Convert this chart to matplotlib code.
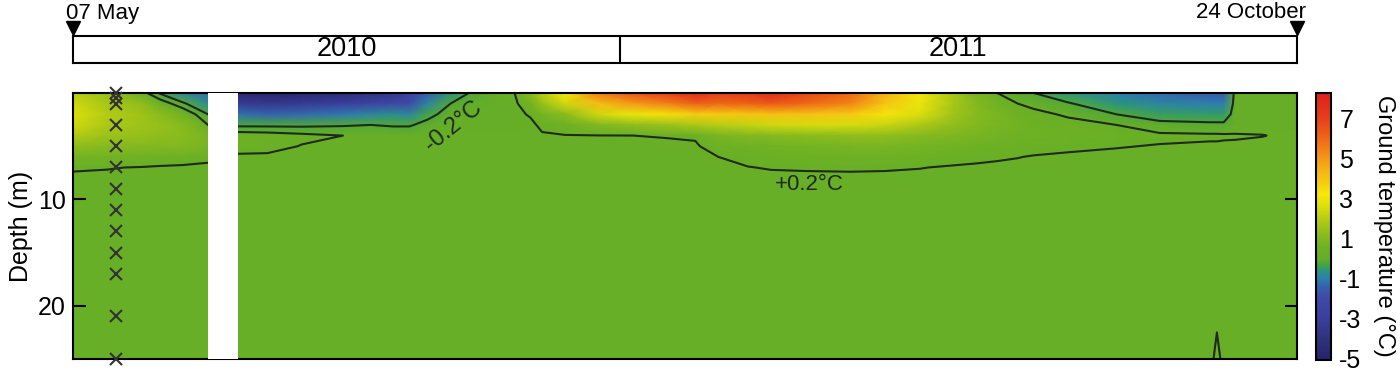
import numpy as np
import matplotlib
matplotlib.use("Agg")
import matplotlib.pyplot as plt
from matplotlib.colors import LinearSegmentedColormap, Normalize

plt.rcParams['font.family'] = ['Liberation Sans', 'DejaVu Sans']
plt.rcParams['axes.unicode_minus'] = False

# ---------------- data ----------------
# depth of each row of the temperature profiles (m)
depths = [0, 1, 2, 3, 4, 5, 6, 7, 8, 10, 15, 20, 25]
# days after 07 May 2010 of each measured profile
days = [0, 15, 30, 38, 48, 59, 72, 85, 100, 118, 130, 140, 147, 155, 165, 173,
        185, 193, 200, 205, 215, 230, 245, 260, 272, 282, 295, 305, 320, 340,
        355, 370, 385, 395, 404, 413, 420, 435, 456, 475, 497, 500, 503, 508,
        520, 535]
# ground temperature profiles (deg C), one list per day, top to bottom
temps = [
    [2.0, 2.4, 2.6, 2.4, 1.9, 1.3, 0.7, 0.25, 0.12, 0.1, 0.1, 0.1, 0.1],
    [1.4, 1.7, 1.9, 1.8, 1.5, 1.1, 0.62, 0.22, 0.12, 0.1, 0.1, 0.1, 0.1],
    [0.4, 1.3, 1.6, 1.6, 1.4, 1.05, 0.6, 0.18, 0.12, 0.1, 0.1, 0.1, 0.1],
    [-0.25, 0.5, 1.2, 1.4, 1.3, 1.0, 0.5, 0.15, 0.11, 0.1, 0.1, 0.1, 0.1],
    [-0.9, -0.1, 0.6, 1.1, 1.2, 1.0, 0.4, 0.14, 0.11, 0.1, 0.1, 0.1, 0.1],
    [-1.2, -0.8, -0.2, 0.2, 0.8, 0.8, 0.3, 0.12, 0.1, 0.1, 0.1, 0.1, 0.1],
    [-4.6, -3.3, -1.2, -0.3, 0.45, 0.4, 0.12, 0.1, 0.1, 0.1, 0.1, 0.1, 0.1],
    [-4.8, -3.5, -1.4, -0.3, 0.4, 0.35, 0.12, 0.1, 0.1, 0.1, 0.1, 0.1, 0.1],
    [-4.7, -3.3, -1.3, -0.3, 0.3, 0.18, 0.1, 0.1, 0.1, 0.1, 0.1, 0.1, 0.1],
    [-4.4, -2.9, -1.1, -0.25, 0.2, 0.12, 0.1, 0.1, 0.1, 0.1, 0.1, 0.1, 0.1],
    [-3.9, -2.5, -0.9, -0.2, 0.12, 0.1, 0.1, 0.1, 0.1, 0.1, 0.1, 0.1, 0.1],
    [-3.6, -2.1, -0.8, -0.25, 0.1, 0.1, 0.1, 0.1, 0.1, 0.1, 0.1, 0.1, 0.1],
    [-2.8, -2.0, -0.9, -0.25, 0.1, 0.1, 0.1, 0.1, 0.1, 0.1, 0.1, 0.1, 0.1],
    [-1.5, -0.9, -0.35, -0.05, 0.1, 0.1, 0.1, 0.1, 0.1, 0.1, 0.1, 0.1, 0.1],
    [-0.7, -0.2, 0.0, 0.05, 0.1, 0.1, 0.1, 0.1, 0.1, 0.1, 0.1, 0.1, 0.1],
    [-0.2, -0.05, 0.05, 0.08, 0.1, 0.1, 0.1, 0.1, 0.1, 0.1, 0.1, 0.1, 0.1],
    [0.05, 0.02, 0.05, 0.08, 0.1, 0.1, 0.1, 0.1, 0.1, 0.1, 0.1, 0.1, 0.1],
    [0.2, 0.1, 0.08, 0.08, 0.1, 0.1, 0.1, 0.1, 0.1, 0.1, 0.1, 0.1, 0.1],
    [1.2, 0.6, 0.25, 0.1, 0.1, 0.1, 0.1, 0.1, 0.1, 0.1, 0.1, 0.1, 0.1],
    [2.0, 1.4, 0.7, 0.3, 0.15, 0.12, 0.1, 0.1, 0.1, 0.1, 0.1, 0.1, 0.1],
    [3.2, 2.4, 1.2, 0.5, 0.18, 0.12, 0.1, 0.1, 0.1, 0.1, 0.1, 0.1, 0.1],
    [5.6, 4.2, 2.4, 1.0, 0.19, 0.12, 0.1, 0.1, 0.1, 0.1, 0.1, 0.1, 0.1],
    [6.5, 5.0, 3.0, 1.3, 0.2, 0.13, 0.1, 0.1, 0.1, 0.1, 0.1, 0.1, 0.1],
    [7.0, 5.5, 3.4, 1.5, 0.22, 0.14, 0.1, 0.1, 0.1, 0.1, 0.1, 0.1, 0.1],
    [7.8, 6.2, 3.8, 1.8, 0.25, 0.15, 0.12, 0.1, 0.1, 0.1, 0.1, 0.1, 0.1],
    [7.0, 6.0, 3.9, 2.0, 0.8, 0.4, 0.2, 0.13, 0.1, 0.1, 0.1, 0.1, 0.1],
    [7.2, 6.2, 4.0, 2.2, 1.0, 0.55, 0.3, 0.19, 0.12, 0.1, 0.1, 0.1, 0.1],
    [7.8, 6.4, 4.1, 2.4, 1.1, 0.6, 0.35, 0.22, 0.13, 0.1, 0.1, 0.1, 0.1],
    [6.8, 6.0, 4.1, 2.5, 1.2, 0.7, 0.4, 0.23, 0.14, 0.1, 0.1, 0.1, 0.1],
    [6.0, 5.4, 3.9, 2.5, 1.3, 0.8, 0.45, 0.24, 0.14, 0.1, 0.1, 0.1, 0.1],
    [4.4, 4.0, 3.3, 2.3, 1.3, 0.8, 0.45, 0.23, 0.14, 0.1, 0.1, 0.1, 0.1],
    [3.1, 3.0, 2.6, 1.8, 1.1, 0.7, 0.4, 0.21, 0.13, 0.1, 0.1, 0.1, 0.1],
    [1.7, 1.7, 1.6, 1.3, 0.9, 0.6, 0.32, 0.17, 0.12, 0.1, 0.1, 0.1, 0.1],
    [0.8, 1.0, 1.1, 1.0, 0.8, 0.5, 0.28, 0.15, 0.11, 0.1, 0.1, 0.1, 0.1],
    [0.2, 0.6, 0.8, 0.8, 0.65, 0.42, 0.24, 0.14, 0.1, 0.1, 0.1, 0.1, 0.1],
    [-0.1, 0.2, 0.55, 0.65, 0.55, 0.38, 0.21, 0.13, 0.1, 0.1, 0.1, 0.1, 0.1],
    [-0.2, 0.05, 0.35, 0.5, 0.45, 0.32, 0.18, 0.12, 0.1, 0.1, 0.1, 0.1, 0.1],
    [-0.6, -0.15, 0.12, 0.38, 0.42, 0.28, 0.14, 0.11, 0.1, 0.1, 0.1, 0.1, 0.1],
    [-1.0, -0.6, -0.2, 0.2, 0.35, 0.22, 0.12, 0.1, 0.1, 0.1, 0.1, 0.1, 0.1],
    [-1.3, -0.9, -0.45, -0.05, 0.28, 0.18, 0.12, 0.1, 0.1, 0.1, 0.1, 0.1, 0.1],
    [-1.5, -1.0, -0.5, -0.1, 0.26, 0.15, 0.1, 0.1, 0.1, 0.1, 0.1, 0.1, 0.1],
    [-1.5, -1.0, -0.5, -0.1, 0.26, 0.15, 0.1, 0.1, 0.1, 0.1, 0.1, 0.1, 0.3],
    [-1.5, -1.0, -0.5, -0.1, 0.25, 0.14, 0.1, 0.1, 0.1, 0.1, 0.1, 0.1, 0.1],
    [0.0, 0.0, 0.0, 0.0, 0.24, 0.14, 0.1, 0.1, 0.1, 0.1, 0.1, 0.1, 0.1],
    [0.05, 0.05, 0.05, 0.08, 0.21, 0.12, 0.1, 0.1, 0.1, 0.1, 0.1, 0.1, 0.1],
    [0.05, 0.05, 0.05, 0.08, 0.12, 0.1, 0.1, 0.1, 0.1, 0.1, 0.1, 0.1, 0.1],
]
sensor_day = 19
sensor_depths = [0, 0.5, 1, 3, 5, 7, 9, 11, 13, 15, 17, 21, 25]
gap_days = [59, 72]           # no data
total_days = 535              # 07 May 2010 -> 24 October 2011
new_year_day = 239            # 01 January 2011
year_labels = ['2010', '2011']
start_label = '07 May'
end_label = '24 October'
contour_levels = [-0.2, 0.2]
contour_labels = ['-0.2\u00b0C', '+0.2\u00b0C']
cbar_ticks = [-5, -3, -1, 1, 3, 5, 7]
vmin, vmax = -5.1, 8.3

# colour scale (value, colour)
cmap_nodes = [(-5.1, '#26236a'), (-4.0, '#30337c'), (-3.0, '#3a3f9c'),
              (-2.0, '#3e4aa6'), (-1.4, '#3463ae'), (-1.0, '#2e7eae'),
              (-0.6, '#2a9878'), (-0.3, '#4aa63c'), (0.0, '#66ae28'),
              (0.5, '#6db124'), (1.2, '#8abb1e'), (2.0, '#b8cd14'),
              (2.7, '#e0e00c'), (3.2, '#f5e80a'), (4.0, '#f5c612'),
              (5.0, '#f39a18'), (6.0, '#ee6a16'), (7.0, '#e6401a'),
              (8.3, '#dd1f1f')]

# ---------------- figure ----------------
W, H = 1400, 374
fig = plt.figure(figsize=(W / 100, H / 100), dpi=100)

cmap = LinearSegmentedColormap.from_list(
    'ground', [((v - vmin) / (vmax - vmin), c) for v, c in cmap_nodes])
norm = Normalize(vmin=vmin, vmax=vmax)

ax = fig.add_axes([73 / W, 15 / H, 1224 / W, 266 / H])
T = np.array(temps).T
mesh = ax.pcolormesh(days, depths, T, shading='gouraud', cmap=cmap, norm=norm,
                     rasterized=True)
ax.contour(days, depths, T, levels=contour_levels, colors='#1e2a1e',
           linewidths=1.5, linestyles='solid')
ax.axvspan(gap_days[0], gap_days[1], color='white', zorder=3, lw=0)
ax.plot([sensor_day] * len(sensor_depths), sensor_depths, 'x',
        color='#333333', ms=8, mew=1.5, clip_on=False, zorder=5)

ax.text(166, 3.1, contour_labels[0], rotation=39, fontsize=17,
        ha='center', va='center', color='#1e2a1e', zorder=4)
ax.text(322, 8.6, contour_labels[1], fontsize=16,
        ha='center', va='center', color='#1e2a1e', zorder=4)

ax.set_xlim(0, total_days)
ax.set_ylim(25, 0)
ax.set_xticks([])
ax.set_yticks([10, 20])
ax.tick_params(axis='y', direction='in', length=9, width=1.5, labelsize=18,
               left=True, right=True, pad=5)
for s in ax.spines.values():
    s.set_linewidth(1.5)
ax.set_ylabel('Depth (m)', fontsize=18, labelpad=4)

# timeline bar
tax = fig.add_axes([73 / W, (H - 63) / H, 1224 / W, 27 / H])
tax.set_xlim(0, total_days)
tax.set_ylim(0, 1)
tax.set_xticks([])
tax.set_yticks([])
for s in tax.spines.values():
    s.set_linewidth(1.5)
tax.axvline(new_year_day, color='black', lw=1.5)
tax.text(new_year_day / 2, 0.5, year_labels[0], ha='center', va='center',
         fontsize=19.5)
tax.text((new_year_day + total_days) / 2, 0.5, year_labels[1], ha='center',
         va='center', fontsize=19.5)
tax.plot([0, total_days], [1.3, 1.3], 'v', color='black', ms=10,
         clip_on=False)
tax.annotate(start_label, xy=(0, 1), xytext=(-7, 23), textcoords='offset pixels',
             ha='left', va='center', fontsize=16, annotation_clip=False)
tax.annotate(end_label, xy=(total_days, 1), xytext=(9, 23),
             textcoords='offset pixels', ha='right', va='center', fontsize=16,
             annotation_clip=False)

# colour bar
cax = fig.add_axes([1316 / W, 14 / H, 15 / W, 267 / H])
cb = fig.colorbar(mesh, cax=cax, ticks=cbar_ticks)
cb.ax.tick_params(length=0, labelsize=18, pad=6)
cb.outline.set_linewidth(1.5)
fig.text(1384 / W, 1 - 226 / H, 'Ground temperature (\u00b0C)', rotation=270,
         ha='center', va='center', fontsize=17)

fig.savefig('out.png', dpi=100)
